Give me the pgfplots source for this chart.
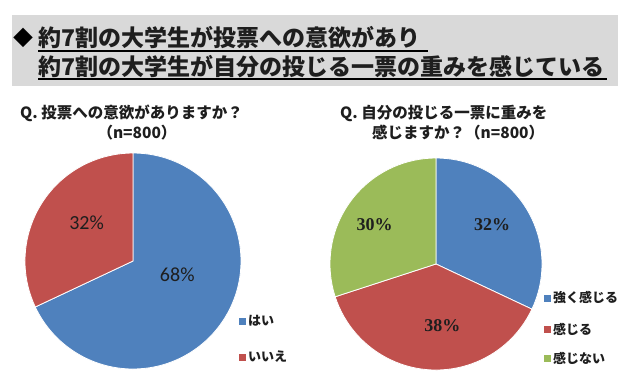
\documentclass[border=0pt]{standalone}
\usepackage{pgfplots}
\pgfplotsset{compat=1.18}
\usepackage{pgfplotstable}
\usepackage{fontspec}
\setmainfont{Liberation Serif}
\newfontfamily\jp{Noto Sans CJK JP}
\newfontfamily\calfont{Carlito}
\definecolor{cblue}{HTML}{4F81BD}
\definecolor{cred}{HTML}{C0504D}
\definecolor{cgreen}{HTML}{9BBB59}
\definecolor{boxgray}{HTML}{D9D9D9}
\definecolor{txt}{HTML}{1E1E1E}

\pgfplotstableread{
id value
yes 68
no 32
}\tabA
\pgfplotstableread{
id value
strong 32
feel 38
notfeel 30
}\tabB

\begin{document}
\begin{tikzpicture}[x=1bp,y=1bp]
\useasboundingbox (0,0) rectangle (640,380);
\fill[white] (0,0) rectangle (640,380);
% title box
\fill[boxgray] (12,380-15) rectangle (618,380-86);
\node[anchor=west,inner sep=0,text=black] at (13,380-38) {\jp\bfseries\fontsize{20bp}{20bp}\selectfont ◆};
\node[anchor=west,inner sep=0,text=txt] at (38,380-38) {\jp\bfseries\fontsize{23bp}{23bp}\selectfont 約7割の大学生が投票への意欲があり};
\node[anchor=west,inner sep=0,text=txt] at (38,380-67) {\jp\bfseries\fontsize{23bp}{23bp}\selectfont 約7割の大学生が自分の投じる一票の重みを感じている};
\draw[line width=1.3bp,black] (38,380-51) -- (428,380-51);
\draw[line width=1.3bp,black] (38,380-79) -- (607,380-79);

% question titles
\node[anchor=west,inner sep=0,text=txt] at (20,380-113) {\jp\bfseries\fontsize{15.5bp}{15.5bp}\selectfont Q. 投票への意欲がありますか？};
\node[inner sep=0,text=txt] at (137,380-133) {\jp\bfseries\fontsize{15.5bp}{15.5bp}\selectfont （n=800）};
\node[anchor=west,inner sep=0,text=txt] at (340,380-113) {\jp\bfseries\fontsize{15.5bp}{15.5bp}\selectfont Q. 自分の投じる一票に重みを};
\node[anchor=west,inner sep=0,text=txt] at (372,380-133) {\jp\bfseries\fontsize{15.5bp}{15.5bp}\selectfont 感じますか？（n=800）};

\pgfplotstablegetelem{0}{value}\of\tabA \edef\Aa{\pgfplotsretval}
\pgfplotstablegetelem{1}{value}\of\tabA \edef\Ab{\pgfplotsretval}
\pgfplotstablegetelem{0}{value}\of\tabB \edef\Ba{\pgfplotsretval}
\pgfplotstablegetelem{1}{value}\of\tabB \edef\Bb{\pgfplotsretval}
\pgfplotstablegetelem{2}{value}\of\tabB \edef\Bc{\pgfplotsretval}

% left pie
\begin{axis}[at={(133bp,119bp)},anchor=center,width=216bp,height=216bp,scale only axis,
  xmin=-1,xmax=1,ymin=-1,ymax=1,hide axis,clip=false]
\path[fill=cblue,draw=white,line width=0.8bp] (axis cs:0,0) -- (axis cs:0,1)
  arc[start angle=90,delta angle=-3.6*\Aa,radius=108bp] -- cycle;
\path[fill=cred,draw=white,line width=0.8bp] (axis cs:0,0) -- (axis cs:{cos(90-3.6*\Aa)},{sin(90-3.6*\Aa)})
  arc[start angle=90-3.6*\Aa,delta angle=-3.6*\Ab,radius=108bp] -- cycle;
\node[text=txt,font=\calfont\fontsize{20bp}{20bp}\selectfont] at (axis cs:0.41,-0.13) {\Aa\%};
\node[text=txt,font=\calfont\fontsize{20bp}{20bp}\selectfont] at (axis cs:-0.43,0.35) {\Ab\%};
\end{axis}

% right pie
\begin{axis}[at={(436bp,116bp)},anchor=center,width=212bp,height=212bp,scale only axis,
  xmin=-1,xmax=1,ymin=-1,ymax=1,hide axis,clip=false]
\path[fill=cblue,draw=white,line width=0.8bp] (axis cs:0,0) -- (axis cs:0,1)
  arc[start angle=90,delta angle=-3.6*\Ba,radius=106bp] -- cycle;
\path[fill=cred,draw=white,line width=0.8bp] (axis cs:0,0) -- (axis cs:{cos(90-3.6*\Ba)},{sin(90-3.6*\Ba)})
  arc[start angle=90-3.6*\Ba,delta angle=-3.6*\Bb,radius=106bp] -- cycle;
\path[fill=cgreen,draw=white,line width=0.8bp] (axis cs:0,0) -- (axis cs:{cos(90-3.6*\Ba-3.6*\Bb)},{sin(90-3.6*\Ba-3.6*\Bb)})
  arc[start angle=90-3.6*\Ba-3.6*\Bb,delta angle=-3.6*\Bc,radius=106bp] -- cycle;
\node[text=txt,font=\bfseries\fontsize{18bp}{18bp}\selectfont] at (axis cs:0.53,0.37) {\Ba\%};
\node[text=txt,font=\bfseries\fontsize{18bp}{18bp}\selectfont] at (axis cs:0.06,-0.58) {\Bb\%};
\node[text=txt,font=\bfseries\fontsize{18bp}{18bp}\selectfont] at (axis cs:-0.58,0.37) {\Bc\%};
\end{axis}

% legends
\fill[cblue] (239,380-324.5) rectangle (246,380-317.5);
\node[anchor=west,inner sep=0,text=txt] at (248,380-321) {\jp\bfseries\fontsize{13bp}{13bp}\selectfont はい};
\fill[cred] (239,380-360.5) rectangle (246,380-353.5);
\node[anchor=west,inner sep=0,text=txt] at (248,380-357) {\jp\bfseries\fontsize{13bp}{13bp}\selectfont いいえ};

\fill[cblue] (544,380-301.5) rectangle (551,380-294.5);
\node[anchor=west,inner sep=0,text=txt] at (553,380-298) {\jp\bfseries\fontsize{13bp}{13bp}\selectfont 強く感じる};
\fill[cred] (544,380-332.5) rectangle (551,380-325.5);
\node[anchor=west,inner sep=0,text=txt] at (553,380-329) {\jp\bfseries\fontsize{13bp}{13bp}\selectfont 感じる};
\fill[cgreen] (544,380-361.5) rectangle (551,380-354.5);
\node[anchor=west,inner sep=0,text=txt] at (553,380-358) {\jp\bfseries\fontsize{13bp}{13bp}\selectfont 感じない};
\end{tikzpicture}
\end{document}
